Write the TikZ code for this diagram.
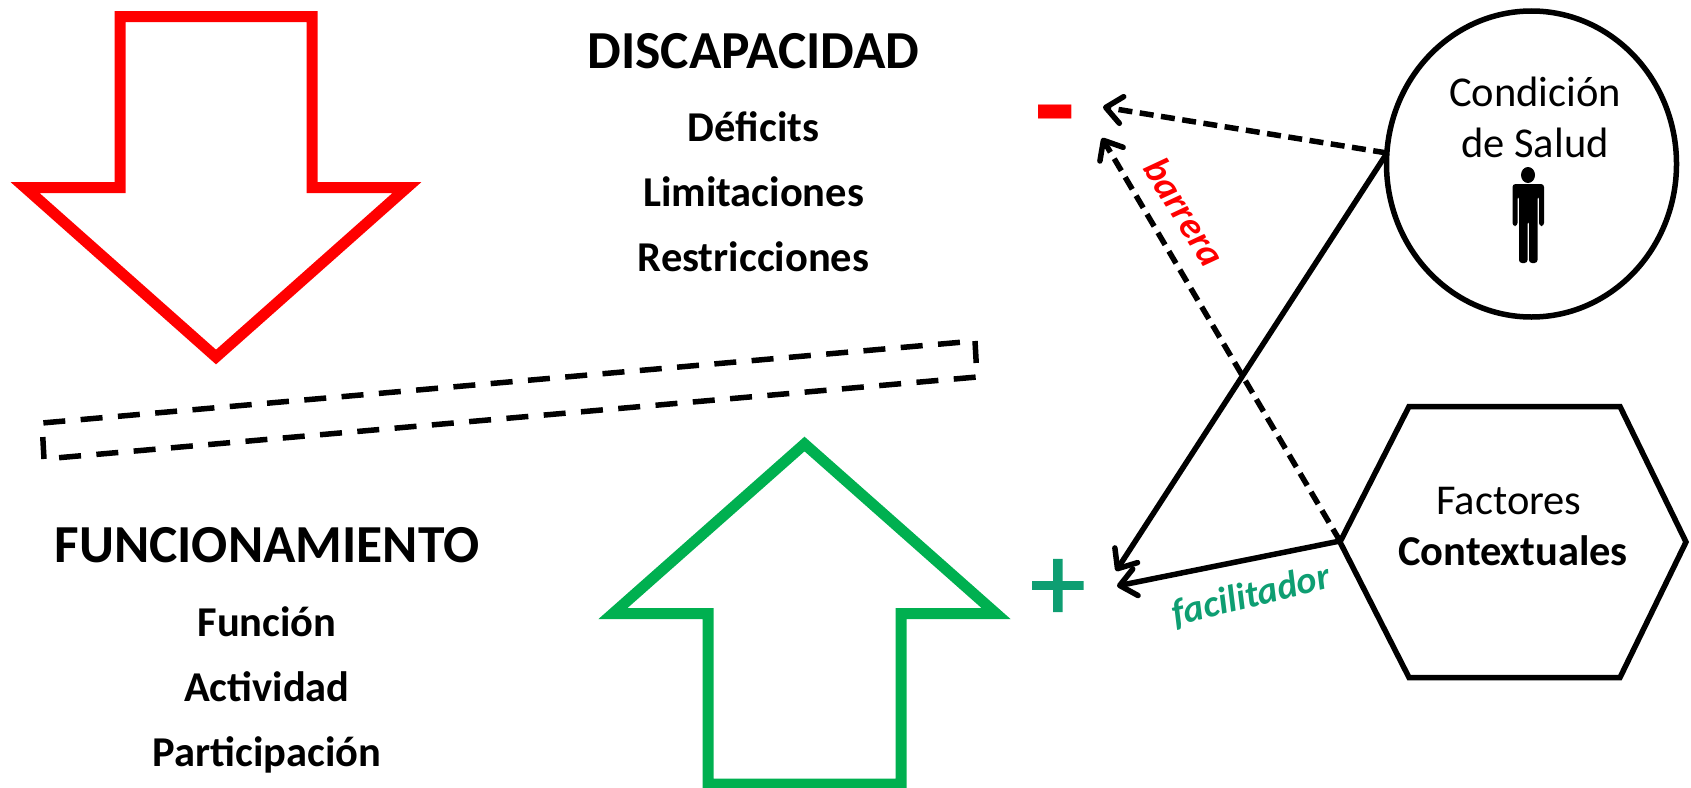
\documentclass[tikz,border=0pt]{standalone}
\usepackage{fontspec}
\setmainfont{Carlito}
\newfontfamily\masfont[FakeBold=1.6]{Carlito}
\usepackage{xcolor}
\usetikzlibrary{shapes.geometric, arrows.meta, positioning, calc}
\definecolor{rojo}{RGB}{255,0,0}
\definecolor{verde}{RGB}{0,176,80}
\definecolor{teal}{RGB}{14,158,114}

\tikzset{
  titulo/.style={anchor=base, font=\bfseries\fontsize{53.5}{53.5}\selectfont},
  item/.style={anchor=base, font=\bfseries\fontsize{42.5}{42.5}\selectfont},
  normal/.style={anchor=base, font=\fontsize{42.5}{42.5}\selectfont},
  etiqueta/.style={anchor=center, font=\bfseries\itshape\fontsize{38}{38}\selectfont},
  bloque/.style={line width=11pt, miter limit=10},
  balanza/.style={line width=5.5pt, dash pattern=on 22pt off 15.42pt},
  flecha/.style={line width=5.5pt, -{Straight Barb[length=16pt,width=27pt,round]}},
  punteada/.style={flecha, dash pattern=on 14pt off 7.5pt}
}

\begin{document}
\begin{tikzpicture}[x=1pt, y=-1pt]
    \useasboundingbox (0,0) rectangle (1691,787);

    \coordinate (saludL) at (1387,153);
    \coordinate (factoresL) at (1340,541);
    \coordinate (menosA) at (1103,107);
    \coordinate (menosB) at (1102,138);
    \coordinate (masA) at (1116,571);
    \coordinate (masB) at (1117,586);

    % flechas grandes
    \draw [bloque, rojo] (120,16.5) -- (312,16.5) -- (312,187.5) -- (407,187.5) -- (216,357)
      -- (25,187.5) -- (120,187.5) -- cycle;
    \draw [bloque, verde] (708,784) -- (901,784) -- (901,613.5) -- (996,613.5) -- (804.5,444)
      -- (613,613.5) -- (708,613.5) -- cycle;

    % balanza
    \draw [balanza] (975,341) -- (977,377) -- (44,459);
    \draw [balanza] (44,459) -- (42,423) -- (975,341);

    \node [titulo] (discapacidad) at (753.5,68) {DISCAPACIDAD};
    \node [item] (deficits) at (753.5,141) {Déficits};
    \node [item] (limitaciones) at (753.5,206) {Limitaciones};
    \node [item] (restricciones) at (753.5,271) {Restricciones};

    \node [titulo] (funcionamiento) at (267,562) {FUNCIONAMIENTO};
    \node [item] (funcion) at (267,636) {Función};
    \node [item] (actividad) at (267,701) {Actividad};
    \node [item] (participacion) at (267,766) {Participación};

    % condicion de salud
    \node [draw, ellipse, line width=5.5pt, minimum width=290pt, minimum height=306pt,
      inner sep=0pt] (salud) at (1531.5,164) {};
    \node [normal] (condicion) at (1535,106) {Condición};
    \node [normal] (desalud) at (1535,157) {de Salud};
    \fill (1528,175) ellipse [x radius=7, y radius=8];
    \fill [rounded corners=3pt] (1512.5,184) -- (1544,184) -- (1544,226) -- (1539,226)
      -- (1539,196) -- (1537.5,196) -- (1537.5,263) -- (1529,263) -- (1529,221) -- (1527.5,221)
      -- (1527.5,263) -- (1519,263) -- (1519,196) -- (1517.5,196) -- (1517.5,226) -- (1512.5,226) -- cycle;

    % factores contextuales
    \draw [line width=5.5pt] (1340,542) -- (1409,406.5) -- (1620,406.5) -- (1686,542)
      -- (1620,677.5) -- (1409,677.5) -- cycle;
    \node [normal] (factores) at (1509,514) {Factores};
    \node [item] (contextuales) at (1513,565) {Contextuales};

    \node [anchor=center, text=rojo, font=\bfseries\fontsize{135}{135}\selectfont] (menos) at (1055,128) {-};
    \node [anchor=center, text=teal, font=\masfont\fontsize{110}{110}\selectfont] (mas) at (1058,590) {+};

    \draw [punteada] (saludL) -- (menosA);
    \draw [punteada] (factoresL) -- (menosB);
    \draw [flecha] (saludL) -- (masA);
    \draw [flecha] (factoresL) -- (masB);

    \node [etiqueta, text=rojo, rotate=-58] (barrera) at (1185,212) {barrera};
    \node [etiqueta, text=teal, rotate=14] (facilitador) at (1251,596) {facilitador};
  \end{tikzpicture}
\end{document}
